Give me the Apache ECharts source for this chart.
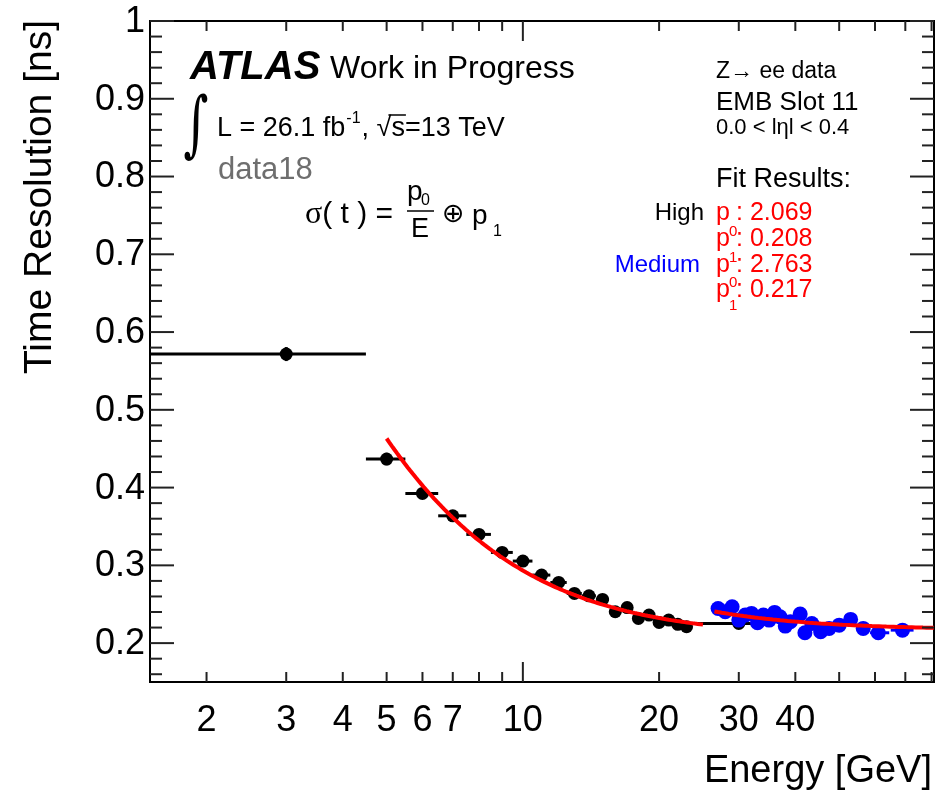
<!DOCTYPE html>
<html>
<head>
<meta charset="utf-8">
<title>Time Resolution vs Energy</title>
<script src="https://cdn.jsdelivr.net/npm/echarts@6/dist/echarts.min.js"></script>
<style>
  html, body { margin: 0; padding: 0; background: #fff; }
  #chart { width: 943px; height: 795px; }
</style>
</head>
<body>
<div id="chart"></div>
<script>
// Axis ranges
const X_MIN = 1.5, X_MAX = 81;
const Y_MIN = 0.15, Y_MAX = 1.0;

// High gain measurements: energy bin centre, bin edges, resolution, uncertainty
const highEnergy = [3, 5, 6, 7, 8, 9, 10, 11, 12, 13, 14, 15, 16, 17, 18, 19, 20, 21, 22, 23, 30];
const highLow    = [1.5, 4.5, 5.5, 6.5, 7.5, 8.5, 9.5, 10.5, 11.5, 12.5, 13.5, 14.5, 15.5, 16.5, 17.5, 18.5, 19.5, 20.5, 21.5, 22.5, 23.5];
const highHigh   = [4.5, 5.5, 6.5, 7.5, 8.5, 9.5, 10.5, 11.5, 12.5, 13.5, 14.5, 15.5, 16.5, 17.5, 18.5, 19.5, 20.5, 21.5, 22.5, 23.5, 34];
const highSigma  = [0.5717, 0.4367, 0.3925, 0.3637, 0.3398, 0.3166, 0.3055, 0.2875, 0.2780, 0.2639, 0.2608, 0.2562, 0.2403, 0.2457, 0.2318, 0.2360, 0.2266, 0.2296, 0.2242, 0.2212, 0.2253];
const highErr    = [0.009, 0.008, 0.006, 0.006, 0.005, 0.005, 0.005, 0.004, 0.004, 0.004, 0.004, 0.004, 0.004, 0.004, 0.004, 0.004, 0.004, 0.004, 0.004, 0.004, 0.003];

// Medium gain measurements
const medEnergy = [27, 28, 29, 30, 31, 32, 33, 34, 35, 36, 37, 38, 39, 41, 42, 43.5, 45.5, 47.5, 50, 53, 56.5, 61, 69];
const medLow    = [26.5, 27.5, 28.5, 29.5, 30.5, 31.5, 32.5, 33.5, 34.5, 35.5, 36.5, 37.5, 38.5, 40.5, 41.5, 42.5, 44.5, 46.5, 48.5, 51.5, 54.5, 58.5, 65];
const medHigh   = [27.5, 28.5, 29.5, 30.5, 31.5, 32.5, 33.5, 34.5, 35.5, 36.5, 37.5, 38.5, 39.5, 41.5, 42.5, 44.5, 46.5, 48.5, 51.5, 54.5, 58.5, 64.5, 73];
const medSigma  = [0.2446, 0.2403, 0.2467, 0.2296, 0.2360, 0.2382, 0.2261, 0.2360, 0.2296, 0.2395, 0.2338, 0.2219, 0.2274, 0.2373, 0.2133, 0.2253, 0.2146, 0.2189, 0.2231, 0.2305, 0.2189, 0.2133, 0.2167];
const medErr    = [0.006, 0.006, 0.006, 0.006, 0.006, 0.006, 0.006, 0.006, 0.006, 0.006, 0.006, 0.006, 0.006, 0.007, 0.007, 0.007, 0.007, 0.007, 0.007, 0.007, 0.007, 0.007, 0.007];

// Fit sigma(t) = p0/E (+) p1 : parameters [p0, p1] and fit range [Emin, Emax]
const fitHighParams = [2.069, 0.208];
const fitHighRange  = [5, 25];
const fitMedParams  = [2.763, 0.217];
const fitMedRange   = [26.5, 81];

// Axis ticks and labels
const xTickValues  = [2, 3, 4, 5, 6, 7, 8, 9, 10, 20, 30, 40, 50, 60, 70, 80];
const xMajorValues = [10];
const xLabelValues = [2, 3, 4, 5, 6, 7, 10, 20, 30, 40];
const xLabelTexts  = ['2', '3', '4', '5', '6', '7', '10', '20', '30', '40'];
const yLabelValues = [0.2, 0.3, 0.4, 0.5, 0.6, 0.7, 0.8, 0.9, 1.0];
const yLabelTexts  = ['0.2', '0.3', '0.4', '0.5', '0.6', '0.7', '0.8', '0.9', '1'];
const yMinorStep = 0.02;

const FONT = '"Liberation Sans", Arial, Helvetica, sans-serif';
const TICK_COLOR = '#222';

// y tick list: minor every 0.02, major every 0.1
const yTicks = [];
for (let k = Math.ceil(Y_MIN / yMinorStep - 1e-9); k * yMinorStep <= Y_MAX + 1e-9; k++) {
  const v = +(k * yMinorStep).toFixed(4);
  const major = yLabelValues.some(m => Math.abs(m - v) < 1e-6) ? 1 : 0;
  yTicks.push([X_MIN, v, major]);
}

// sampled fit curve on a log-spaced energy grid
function fitCurve(params, range) {
  const pts = [];
  const n = 120;
  const a = Math.log10(range[0]), b = Math.log10(range[1]);
  for (let i = 0; i <= n; i++) {
    const e = Math.pow(10, a + (b - a) * i / n);
    const s = Math.sqrt(Math.pow(params[0] / e, 2) + Math.pow(params[1], 2));
    pts.push([e, s]);
  }
  return pts;
}

function errorBarSeries(energy, low, high, sigma, err, color) {
  return {
    type: 'custom',
    silent: true,
    data: energy.map((e, i) => [e, sigma[i], low[i], high[i], err[i]]),
    encode: { x: 0, y: 1 },
    renderItem(params, api) {
      const e = api.value(0), s = api.value(1);
      const l = api.coord([api.value(2), s]);
      const h = api.coord([api.value(3), s]);
      const top = api.coord([e, s + api.value(4)]);
      const bot = api.coord([e, s - api.value(4)]);
      const st = { stroke: color, lineWidth: 3 };
      return {
        type: 'group',
        children: [
          { type: 'line', shape: { x1: l[0], y1: l[1], x2: h[0], y2: h[1] }, style: st },
          { type: 'line', shape: { x1: top[0], y1: top[1], x2: bot[0], y2: bot[1] }, style: st }
        ]
      };
    }
  };
}

// text width helper for placing inline super/subscripts
const measureCtx = document.createElement('canvas').getContext('2d');
function textWidth(text, font) {
  measureCtx.font = font;
  return measureCtx.measureText(text).width;
}

const chart = echarts.init(document.getElementById('chart'), null, { renderer: 'canvas' });

const txt = (x, y, text, size, opts = {}) => ({
  type: 'text', x, y, z: 100,
  style: Object.assign({
    text, fill: '#000', font: size + 'px ' + FONT,
    align: 'left', verticalAlign: 'middle'
  }, opts)
});

// luminosity line pieces
const lumiFont = '27px ' + FONT;
const lumiX = 217, lumiY = 129;
const lumiA = 'L = 26.1 fb';
const lumiSup = '-1';
const lumiB = ', \u221A';
const lumiC = 's=13 TeV';
const wA = textWidth(lumiA, lumiFont);
const wSup = textWidth(lumiSup, '16px ' + FONT);
const wB = textWidth(lumiB, lumiFont);
const wS = textWidth('s', lumiFont);
const xSup = lumiX + wA + 1;
const xB = xSup + wSup + 1;
const xC = xB + wB;

chart.setOption({
  animation: false,
  backgroundColor: '#fff',
  grid: { left: 150, top: 21, right: 9, bottom: 113, show: true, borderColor: '#000', borderWidth: 2, backgroundColor: '#fff' },
  xAxis: {
    type: 'log', logBase: 10, min: X_MIN, max: X_MAX,
    axisLine: { show: false }, axisTick: { show: false }, axisLabel: { show: false }, splitLine: { show: false }
  },
  yAxis: {
    type: 'value', min: Y_MIN, max: Y_MAX,
    axisLine: { show: false }, axisTick: { show: false }, axisLabel: { show: false }, splitLine: { show: false }
  },
  series: [
    // x ticks (bottom and top frame)
    {
      type: 'custom', silent: true, clip: false, z: 5,
      data: xTickValues.map(v => [v, Y_MIN]),
      encode: { x: 0, y: 1 },
      renderItem(params, api) {
        const cs = params.coordSys;
        const v = api.value(0);
        const px = api.coord([v, Y_MIN])[0];
        const len = xMajorValues.indexOf(v) >= 0 ? 20 : 10;
        const st = { stroke: TICK_COLOR, lineWidth: 2 };
        return {
          type: 'group', children: [
            { type: 'line', shape: { x1: px, y1: cs.y + cs.height, x2: px, y2: cs.y + cs.height - len }, style: st },
            { type: 'line', shape: { x1: px, y1: cs.y, x2: px, y2: cs.y + len }, style: st }
          ]
        };
      }
    },
    // y ticks (left and right frame)
    {
      type: 'custom', silent: true, clip: false, z: 5,
      data: yTicks,
      encode: { x: 0, y: 1 },
      renderItem(params, api) {
        const cs = params.coordSys;
        const py = api.coord([X_MIN, api.value(1)])[1];
        const len = api.value(2) ? 24 : 12;
        const st = { stroke: TICK_COLOR, lineWidth: 2 };
        return {
          type: 'group', children: [
            { type: 'line', shape: { x1: cs.x, y1: py, x2: cs.x + len, y2: py }, style: st },
            { type: 'line', shape: { x1: cs.x + cs.width, y1: py, x2: cs.x + cs.width - len, y2: py }, style: st }
          ]
        };
      }
    },
    // x tick labels
    {
      type: 'custom', silent: true, clip: false, z: 5,
      data: xLabelValues.map((v, i) => [v, Y_MIN, i]),
      encode: { x: 0, y: 1 },
      renderItem(params, api) {
        const p = api.coord([api.value(0), Y_MIN]);
        return {
          type: 'text', x: p[0], y: p[1] + 39,
          style: { text: xLabelTexts[api.value(2)], font: '36px ' + FONT, fill: '#000', align: 'center', verticalAlign: 'middle' }
        };
      }
    },
    // y tick labels
    {
      type: 'custom', silent: true, clip: false, z: 5,
      data: yLabelValues.map((v, i) => [X_MIN, v, i]),
      encode: { x: 0, y: 1 },
      renderItem(params, api) {
        const p = api.coord([X_MIN, api.value(1)]);
        return {
          type: 'text', x: p[0] - 5, y: p[1] + 1,
          style: { text: yLabelTexts[api.value(2)], font: '36px ' + FONT, fill: '#000', align: 'right', verticalAlign: 'middle' }
        };
      }
    },
    errorBarSeries(highEnergy, highLow, highHigh, highSigma, highErr, '#000'),
    {
      type: 'scatter', silent: true, symbol: 'circle', symbolSize: 13,
      itemStyle: { color: '#000', opacity: 1 },
      data: highEnergy.map((e, i) => [e, highSigma[i]])
    },
    errorBarSeries(medEnergy, medLow, medHigh, medSigma, medErr, '#0000ff'),
    {
      type: 'scatter', silent: true, symbol: 'circle', symbolSize: 15,
      itemStyle: { color: '#0000ff', opacity: 1 },
      data: medEnergy.map((e, i) => [e, medSigma[i]])
    },
    {
      type: 'line', silent: true, showSymbol: false, smooth: false,
      lineStyle: { color: '#ff0000', width: 4 },
      data: fitCurve(fitHighParams, fitHighRange)
    },
    {
      type: 'line', silent: true, showSymbol: false, smooth: false,
      lineStyle: { color: '#ff0000', width: 4 },
      data: fitCurve(fitMedParams, fitMedRange)
    }
  ],
  graphic: [
    // axis titles
    {
      type: 'text', x: 40, y: 20, rotation: Math.PI / 2, z: 100,
      style: { text: 'Time Resolution [ns]', font: '39px ' + FONT, fill: '#000', align: 'right', verticalAlign: 'middle' }
    },
    txt(932, 772, 'Energy [GeV]', 38, { align: 'right' }),

    // experiment label
    txt(190, 68, 'ATLAS', 40, { font: 'italic bold 40px ' + FONT }),
    txt(330, 69, 'Work in Progress', 32),
    {
      type: 'text', x: 196, y: 129, scaleY: 1.5, z: 100,
      style: { text: '\u222B', font: '48px "DejaVu Serif", serif', fill: '#000', align: 'center', verticalAlign: 'middle' }
    },
    txt(lumiX, lumiY, lumiA, 27),
    txt(xSup, lumiY - 10, lumiSup, 16),
    txt(xB, lumiY, lumiB, 27),
    txt(xC, lumiY, lumiC, 27),
    { type: 'line', z: 100, shape: { x1: xC - 3, y1: lumiY - 14, x2: xC + wS + 1, y2: lumiY - 14 }, style: { stroke: '#000', lineWidth: 1.5 } },
    txt(218, 170, 'data18', 31, { fill: '#6e6e6e' }),

    // resolution model
    {
      type: 'text', x: 305, y: 215, z: 100,
      style: {
        text: '{g|\u03C3}{a|( t ) =}', align: 'left', verticalAlign: 'middle',
        rich: {
          g: { font: '32px "Liberation Serif", serif', fill: '#000' },
          a: { font: '30px ' + FONT, fill: '#000' }
        }
      }
    },
    txt(407, 192, 'p', 28),
    txt(421, 201, '0', 16),
    { type: 'line', z: 100, shape: { x1: 407, y1: 211, x2: 434, y2: 211 }, style: { stroke: '#000', lineWidth: 1.5 } },
    txt(411, 230, 'E', 27),
    txt(442, 215, '\u2295', 27, { font: '27px "DejaVu Sans", sans-serif' }),
    txt(472, 216, 'p', 28),
    txt(493, 232, '1', 16),

    // selection info
    txt(716, 72, 'Z\u2192 ee data', 23),
    txt(716, 103, 'EMB Slot 11', 26),
    txt(716, 128, '0.0 < l\u03B7l < 0.4', 22),
    txt(716, 180, 'Fit Results:', 27),
    txt(704, 213, 'High', 24, { align: 'right' }),
    txt(700, 265, 'Medium', 24, { align: 'right', fill: '#0000ff' }),

    // fitted parameter values
    txt(716, 213, 'p', 25, { fill: '#ff0000' }),
    txt(736, 213, ': ' + fitHighParams[0].toFixed(3), 25, { fill: '#ff0000' }),
    txt(716, 239, 'p', 25, { fill: '#ff0000' }),
    txt(736, 239, ': ' + fitHighParams[1].toFixed(3), 25, { fill: '#ff0000' }),
    txt(716, 265, 'p', 25, { fill: '#ff0000' }),
    txt(736, 265, ': ' + fitMedParams[0].toFixed(3), 25, { fill: '#ff0000' }),
    txt(716, 290, 'p', 25, { fill: '#ff0000' }),
    txt(736, 290, ': ' + fitMedParams[1].toFixed(3), 25, { fill: '#ff0000' }),
    txt(729, 232, '0', 15, { fill: '#ff0000' }),
    txt(729, 258, '1', 15, { fill: '#ff0000' }),
    txt(729, 283, '0', 15, { fill: '#ff0000' }),
    txt(729, 306, '1', 15, { fill: '#ff0000' })
  ]
});
</script>
</body>
</html>
